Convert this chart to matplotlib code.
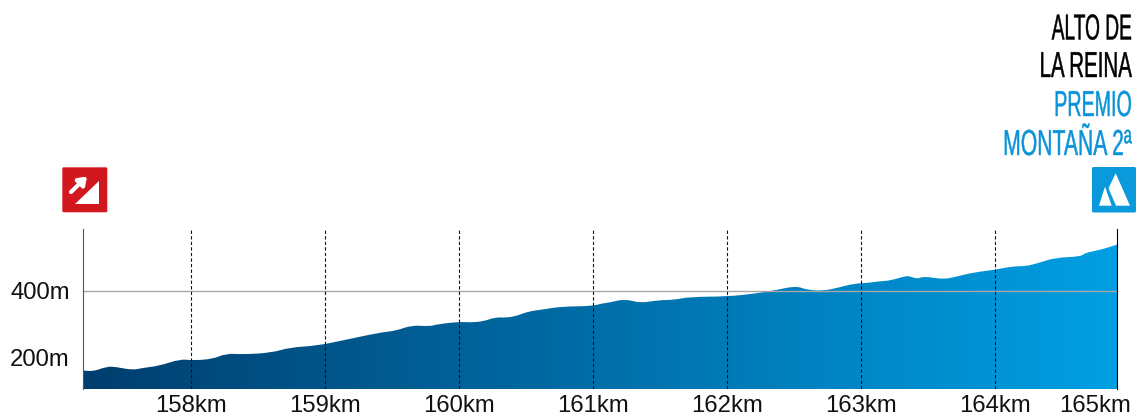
"""Stage profile of the final climb to Alto de la Reina."""
import matplotlib

matplotlib.use("Agg")
import matplotlib.pyplot as plt
import numpy as np
from matplotlib.colors import LinearSegmentedColormap
from matplotlib.patches import FancyBboxPatch, PathPatch, Polygon
from matplotlib.path import Path
from matplotlib.patheffects import AbstractPathEffect
from matplotlib.transforms import Affine2D

km = [
    157.19, 157.255, 157.37, 157.44, 157.56, 157.63, 157.765, 157.915, 158.01, 158.16,
    158.26, 158.385, 158.60, 158.735, 158.935, 159.13, 159.41, 159.53, 159.645, 159.78,
    159.84, 160.005, 160.08, 160.18, 160.27, 160.355, 160.44, 160.515, 160.625, 160.765,
    160.99, 161.065, 161.125, 161.24, 161.35, 161.485, 161.61, 161.72, 162.005, 162.215,
    162.365, 162.515, 162.60, 162.72, 162.835, 162.95, 163.06, 163.14, 163.225, 163.335,
    163.375, 163.42, 163.46, 163.52, 163.62, 163.71, 163.835, 164.0, 164.135, 164.235,
    164.33, 164.455, 164.645, 164.68, 164.78, 164.915,
]
elevation_m = [
    161, 156, 173, 171, 162, 168, 175, 195, 191, 195,
    212, 209, 214, 230, 235, 251, 275, 280, 297, 293,
    300, 307, 305, 308, 321, 319, 326, 338, 344, 353,
    354, 362, 365, 376, 363, 372, 373, 382, 383, 392,
    402, 415, 403, 400, 410, 422, 424, 429, 431, 445,
    443, 436, 442, 441, 435, 442, 455, 463, 474, 474,
    484, 500, 503, 515, 522, 539,
]
km_ticks = [158, 159, 160, 161, 162, 163, 164]
km_labels = ["158km", "159km", "160km", "161km", "162km", "163km", "164km"]
last_km_label = "165km"
m_ticks = [200, 400]
m_labels = ["200m", "400m"]
title_lines = ["ALTO DE", "LA REINA"]
prize_lines = ["PREMIO", "MONTAÑA 2ª"]

W, H = 1136, 416
X_MIN, X_MAX = 157.19, 164.915
Y_MIN, Y_MAX = 105, 586
TEXT_BLUE = "#0a93d8"


class SqueezeX(AbstractPathEffect):
    """Narrow the glyphs around a fixed x and thicken them a little."""

    def __init__(self, x_px, factor, stroke):
        super().__init__()
        self.x_px = x_px
        self.factor = factor
        self.stroke = stroke

    def draw_path(self, renderer, gc, tpath, affine, rgbFace=None):
        squeeze = Affine2D().translate(-self.x_px, 0).scale(self.factor, 1).translate(self.x_px, 0)
        gc0 = renderer.new_gc()
        gc0.copy_properties(gc)
        gc0.set_linewidth(self.stroke)
        gc0.set_foreground(rgbFace)
        renderer.draw_path(gc0, tpath, affine + squeeze, rgbFace)
        gc0.restore()


def profile_path(xs, ys, floor):
    # quadratic pieces through the midpoints, the profile has no sharp corners
    verts = [(xs[0], floor), (xs[0], ys[0])]
    codes = [Path.MOVETO, Path.LINETO]
    for i in range(1, len(xs) - 1):
        verts += [(xs[i], ys[i]), ((xs[i] + xs[i + 1]) / 2, (ys[i] + ys[i + 1]) / 2)]
        codes += [Path.CURVE3, Path.CURVE3]
    verts += [(xs[-1], ys[-1]), (xs[-1], floor), (xs[0], floor)]
    codes += [Path.LINETO, Path.LINETO, Path.CLOSEPOLY]
    return Path(verts, codes)


plt.rcParams["font.family"] = ["Liberation Sans", "DejaVu Sans"]
fig = plt.figure(figsize=(W / 100, H / 100), dpi=100)

ax = fig.add_axes([83 / W, 1 - 389 / H, (1117 - 83) / W, (389 - 229) / H])
ax.set_xlim(X_MIN, X_MAX)
ax.set_ylim(Y_MIN, Y_MAX)

ramp = LinearSegmentedColormap.from_list("climb", ["#003e6f", "#009fe3"])
area = PathPatch(profile_path(km, elevation_m, Y_MIN), facecolor="none", edgecolor="none")
ax.add_patch(area)
im = ax.imshow(
    np.linspace(0, 1, 512).reshape(1, -1),
    extent=[X_MIN, X_MAX, Y_MIN, Y_MAX],
    aspect="auto",
    cmap=ramp,
    zorder=1,
)
im.set_clip_path(area)

ax.axhline(400, color="#a8a8a8", linewidth=1.0, zorder=2)
for tick in km_ticks:
    ax.axvline(tick, color="#111111", linewidth=0.8, linestyle=(0, (3, 2)), zorder=3)

ax.set_xticks(km_ticks, km_labels)
ax.set_yticks(m_ticks, m_labels)
ax.tick_params(axis="x", length=0, pad=4.5, labelsize=17.2, labelcolor="#111111")
ax.tick_params(axis="y", length=0, pad=9.4, labelsize=17.2, labelcolor="#111111")
ax.text(
    1131 / W, 1 - 412 / H, last_km_label, transform=fig.transFigure,
    ha="right", va="baseline", fontsize=17.2, color="#111111",
)

for side in ("top", "bottom"):
    ax.spines[side].set_visible(False)
ax.spines["left"].set_color("#555555")
ax.spines["right"].set_color("black")

# overlay in pixel coordinates for the header text and the two icons
overlay = fig.add_axes([0, 0, 1, 1], zorder=5)
overlay.set_xlim(0, W)
overlay.set_ylim(H, 0)
overlay.axis("off")

header = zip(
    title_lines + prize_lines,
    [39.5, 77, 116, 155],
    ["black", "black", TEXT_BLUE, TEXT_BLUE],
    [0.53, 0.568, 0.545, 0.586],
)
for line, baseline, colour, factor in header:
    overlay.text(
        1132, baseline, line, ha="right", va="baseline", fontsize=26, color=colour,
        family=["Liberation Sans Narrow", "Liberation Sans"],
        path_effects=[SqueezeX(1132, factor, 0.3)],
    )

overlay.add_patch(FancyBboxPatch(
    (62.3, 167.3), 45, 45, boxstyle="round,pad=0,rounding_size=1.5",
    facecolor="#d2181f", edgecolor="none",
))
overlay.add_patch(Polygon([(75, 204), (99, 204), (99, 180.5)], facecolor="white", edgecolor="none"))
overlay.annotate(
    "", xy=(87, 176.5), xytext=(71, 192),
    arrowprops=dict(arrowstyle="-|>,head_width=0.32,head_length=0.45", color="white",
                    linewidth=3, shrinkA=0, shrinkB=0),
)

overlay.add_patch(FancyBboxPatch(
    (1092, 167), 44, 45.5, boxstyle="round,pad=0,rounding_size=1.5",
    facecolor="#0a9adb", edgecolor="none",
))
overlay.add_patch(Polygon(
    [(1115.7, 173.3), (1130, 205.7), (1116, 205.7), (1108.5, 188.3)],
    facecolor="white", edgecolor="none",
))
overlay.add_patch(Polygon(
    [(1105, 186.7), (1111.7, 205.7), (1099, 205.7)], facecolor="white", edgecolor="none",
))

fig.savefig("out.png", dpi=100)
plt.close(fig)
